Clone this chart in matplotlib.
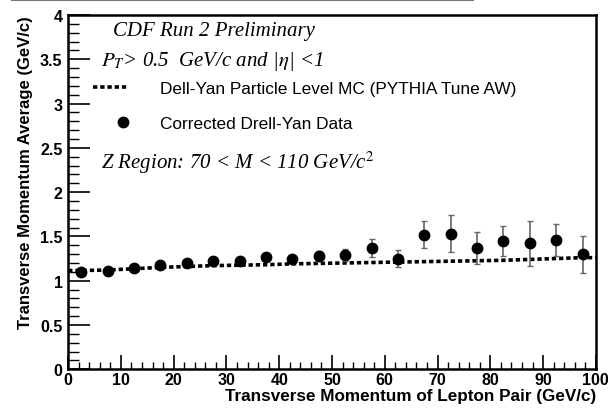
import matplotlib
matplotlib.use("Agg")
import matplotlib.pyplot as plt
from matplotlib.lines import Line2D
from matplotlib.legend_handler import HandlerLine2D
from matplotlib.ticker import MultipleLocator

# The data: bins of 5 GeV/c in lepton pair pT
pt_bins = [2.5, 7.5, 12.5, 17.5, 22.5, 27.5, 32.5, 37.5, 42.5, 47.5,
           52.5, 57.5, 62.5, 67.5, 72.5, 77.5, 82.5, 87.5, 92.5, 97.5]
data_avg = [1.10, 1.11, 1.145, 1.175, 1.20, 1.225, 1.22, 1.265, 1.245, 1.277,
            1.289, 1.37, 1.25, 1.52, 1.53, 1.367, 1.45, 1.42, 1.457, 1.30]
data_err = [0.02, 0.02, 0.02, 0.02, 0.02, 0.02, 0.02, 0.02, 0.03, 0.06,
            0.07, 0.10, 0.10, 0.15, 0.21, 0.18, 0.17, 0.25, 0.18, 0.21]
mc_avg = [1.115, 1.12, 1.135, 1.15, 1.16, 1.17, 1.175, 1.18, 1.19, 1.195,
          1.20, 1.205, 1.21, 1.215, 1.22, 1.225, 1.23, 1.24, 1.25, 1.26]


# legend marker sits to the right of the handle box, as in the original
# (single-point handles put the marker in the middle of xdata)
class RightMarker(HandlerLine2D):
    def get_xdata(self, legend, xdescent, ydescent, width, height, fontsize):
        x0 = -xdescent + 0.76 * width
        x1 = -xdescent + width
        return [x0, x1], [0.5 * (x0 + x1)]


fig = plt.figure(figsize=(6.08, 4.10), dpi=100)
ax = fig.add_axes([0.112, 0.097, 0.868, 0.864])

sans = "Liberation Sans"
serif = "Liberation Serif"

# MC curve, running over the full range
ax.plot([0] + pt_bins + [100], [mc_avg[0]] + mc_avg + [mc_avg[-1]],
        color="black", lw=2.6, linestyle=(0, (1.2, 0.8)), zorder=2)

# data points with grey error bars
ax.errorbar(pt_bins, data_avg, yerr=data_err, fmt="o", color="black",
            markersize=7.5, ecolor="#666666", elinewidth=1.2, capsize=2.5,
            capthick=1.0, zorder=3)

ax.set_xlim(0, 100)
ax.set_ylim(0, 4)
ax.xaxis.set_major_locator(MultipleLocator(10))
ax.xaxis.set_minor_locator(MultipleLocator(2))
ax.yaxis.set_major_locator(MultipleLocator(0.5))
ax.yaxis.set_minor_locator(MultipleLocator(0.1))
ax.set_yticks([0, 0.5, 1, 1.5, 2, 2.5, 3, 3.5, 4])
ax.set_yticklabels(["0", "0.5", "1", "1.5", "2", "2.5", "3", "3.5", "4"])

ax.tick_params(axis="x", which="major", direction="in", length=10, width=1.2, pad=2)
ax.tick_params(axis="x", which="minor", direction="in", length=5, width=1.0)
ax.tick_params(axis="y", which="major", direction="in", length=16, width=1.2, pad=4)
ax.tick_params(axis="y", which="minor", direction="in", length=8, width=1.0)
for lab in ax.get_xticklabels() + ax.get_yticklabels():
    lab.set_fontfamily(sans)
    lab.set_fontweight("bold")
    lab.set_fontsize(11.5)
for sp in ax.spines.values():
    sp.set_linewidth(1.8)

ax.set_xlabel("Transverse Momentum of Lepton Pair (GeV/c)", fontfamily=sans,
              fontweight="bold", fontsize=12.3, loc="right", labelpad=1)
ax.set_ylabel("Transverse Momentum Average (GeV/c)", fontfamily=sans,
              fontweight="bold", fontsize=12, loc="top", labelpad=5)

# annotations in italic serif
ax.text(0.086, 0.955, "CDF Run 2 Preliminary", transform=ax.transAxes,
        fontfamily=serif, style="italic", fontsize=15, va="center")
ax.text(0.062, 0.872, r"$P_T$> 0.5  GeV/c and |$\eta$| <1", transform=ax.transAxes,
        fontfamily=serif, style="italic", fontsize=15, va="center",
        math_fontfamily="stix")
ax.text(0.062, 0.585, r"Z Region: 70 < M < 110 GeV/c$^2$", transform=ax.transAxes,
        fontfamily=serif, style="italic", fontsize=15, va="center",
        math_fontfamily="stix")

# legend
mc_handle = Line2D([], [], color="black", lw=2.6, linestyle=(0, (1.2, 0.8)))
data_handle = Line2D([], [], color="black", marker="o", markersize=7.5, lw=0)
ax.legend([mc_handle, data_handle],
          ["Dell-Yan Particle Level MC (PYTHIA Tune AW)", "Corrected Drell-Yan Data"],
          handler_map={data_handle: RightMarker(numpoints=1)},
          loc="upper left", bbox_to_anchor=(0.047, 0.813),
          frameon=False, prop={"family": sans, "size": 12.4},
          borderaxespad=0, borderpad=0,
          handlelength=2.0, handletextpad=1.9, labelspacing=1.15)

# thin grey line along the top of the canvas
fig.add_artist(Line2D([0.02, 0.778], [0.997, 0.997], color="#777777", lw=1.5,
                      transform=fig.transFigure))

fig.savefig("out.png", dpi=100)
